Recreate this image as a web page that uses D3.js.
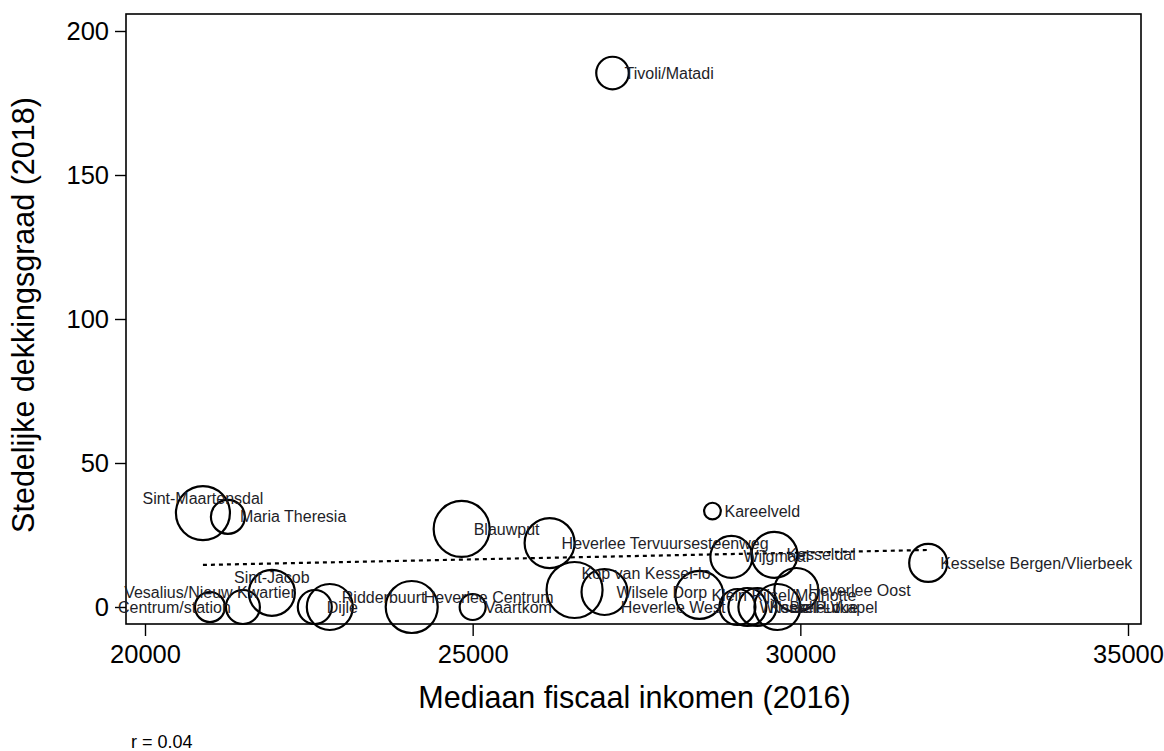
<!DOCTYPE html>
<html>
<head>
<meta charset="utf-8">
<script src="https://cdn.jsdelivr.net/npm/d3@7"></script>
<style>
  html, body { margin: 0; padding: 0; background: #fff; }
  svg { display: block; font-family: "Liberation Sans", Arial, sans-serif; }
</style>
</head>
<body>
<svg id="chart" width="1164" height="751"></svg>
<script>
// ---- data ----
const wijken = ["Tivoli/Matadi","Sint-Maartensdal","Maria Theresia","Blauwput","Kareelveld",
  "Heverlee Tervuursesteenweg","Wijgmaal","Kesseldal","Kesselse Bergen/Vlierbeek","Sint-Jacob",
  "Vesalius/Nieuw Kwartier","Centrum/station","Dijle","Ridderbuurt","Heverlee Centrum","Vaartkom",
  "Kop van Kessel-lo","Wilsele Dorp","Klein Rijsel/Molhotte","Heverlee Oost","Heverlee West",
  "Wilsele Putkapel","Kessel-Lo","Belle-Vue"];
const inkomen = [27134,20884,21265,24832,28659,26174,28948,29604,31951,21936,
  20991,21494,22591,22820,24070,25000,26555,27012,28460,29939,29040,29192,29345,29650];
const dekkingsgraad = [185.4,32.6,31.3,27.1,33.3,22.2,17.4,18.1,15.3,4.9,
  0,0,0,0,0,0,5.9,5.2,4.2,5.9,0,0,0,0];
const inwoners = [2650,7290,2890,7840,700,6250,4410,5290,3610,5290,
  2250,2890,2890,5290,6760,1690,7840,5290,5760,4840,3240,3610,3610,5290];
const labelPos = [3,12,3,3,3,3,3,3,3,12,12,9,3,2,2,3,1,3,3,3,9,3,3,3];
const xTicks = [20000,25000,30000,35000];
const yTicks = [0,50,100,150,200];
const trendX = [20884, 31951];
const trendY = [14.6, 19.8];
const xTitle = "Mediaan fiscaal inkomen (2016)";
const yTitle = "Stedelijke dekkingsgraad (2018)";
const note = "r = 0.04";

// ---- layout ----
const svg = d3.select("#chart");
const box = {left: 126, right: 1141, top: 14, bottom: 624};
const x = d3.scaleLinear().domain([20000, 35000]).range([145, 1128]);
const y = d3.scaleLinear().domain([0, 200]).range([607, 31]);
const r = d3.scaleSqrt().domain([0, d3.max(inwoners)]).range([0, 28]);

const data = wijken.map((n, i) => ({name: n, x: inkomen[i], y: dekkingsgraad[i], w: inwoners[i], pos: labelPos[i]}));

// frame
svg.append("rect")
  .attr("x", box.left).attr("y", box.top)
  .attr("width", box.right - box.left).attr("height", box.bottom - box.top)
  .attr("fill", "none").attr("stroke", "#000").attr("stroke-width", 1.6);

// axes
const xAxis = svg.append("g").attr("transform", `translate(0,${box.bottom})`)
  .call(d3.axisBottom(x).tickValues(xTicks).tickFormat(d3.format("d")).tickSize(12).tickPadding(9));
const yAxis = svg.append("g").attr("transform", `translate(${box.left},0)`)
  .call(d3.axisLeft(y).tickValues(yTicks).tickFormat(d3.format("d")).tickSize(11).tickPadding(6));
[xAxis, yAxis].forEach(g => {
  g.select(".domain").remove();
  g.selectAll(".tick line").attr("stroke", "#000").attr("stroke-width", 1.4);
  g.selectAll(".tick text").attr("fill", "#000").style("font-size", "25.5px")
    .style("font-family", "'Liberation Sans', Arial, sans-serif");
});

// titles
svg.append("text").attr("x", (box.left + box.right) / 2 + 1).attr("y", 708)
  .attr("text-anchor", "middle").style("font-size", "30.5px").text(xTitle);
svg.append("text").attr("transform", `translate(34,${(box.top + box.bottom) / 2 - 4}) rotate(-90)`)
  .attr("text-anchor", "middle").style("font-size", "30.5px").text(yTitle);
svg.append("text").attr("x", 131).attr("y", 748).style("font-size", "18px").text(note);

// trend line
svg.append("line")
  .attr("x1", x(trendX[0])).attr("y1", y(trendY[0]))
  .attr("x2", x(trendX[1])).attr("y2", y(trendY[1]))
  .attr("stroke", "#000").attr("stroke-width", 2.2).attr("stroke-dasharray", "4,4");

// bubbles
svg.append("g").selectAll("circle").data(data).join("circle")
  .attr("cx", d => x(d.x)).attr("cy", d => y(d.y)).attr("r", d => r(d.w))
  .attr("fill", "none").attr("stroke", "#000").attr("stroke-width", 2.2);

// labels
const off = {3: [12, 0, "start"], 2: [12, -10, "start"], 1: [7, -17, "start"], 12: [0, -15, "middle"], 9: [-12, 0, "end"]};
svg.append("g").selectAll("text").data(data).join("text")
  .attr("x", d => x(d.x) + off[d.pos][0])
  .attr("y", d => y(d.y) + off[d.pos][1])
  .attr("dy", "0.35em")
  .attr("text-anchor", d => off[d.pos][2])
  .attr("fill", "#1e1e28")
  .style("font-size", "16px")
  .text(d => d.name);
</script>
</body>
</html>
